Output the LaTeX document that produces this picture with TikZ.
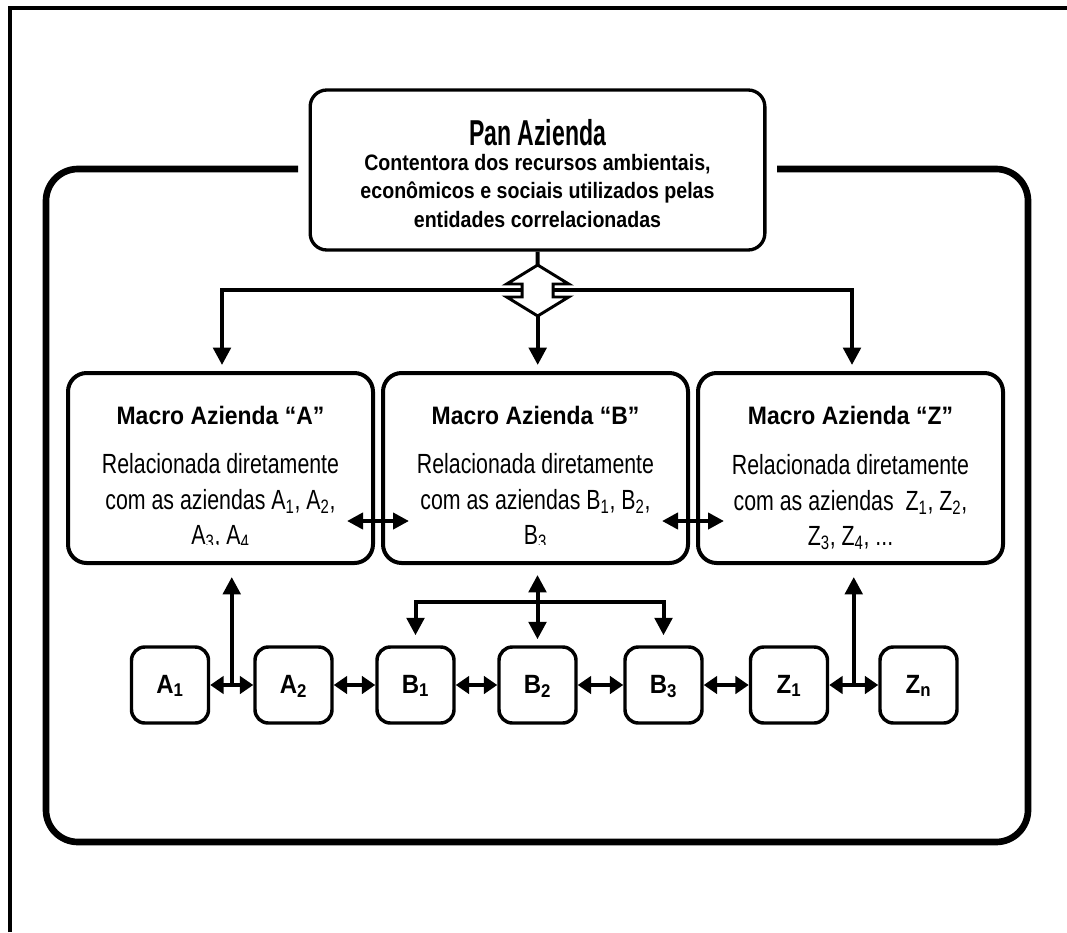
\documentclass[tikz,border=0pt]{standalone}
\usepackage{fontspec}
\setmainfont{Liberation Sans}
\usepackage{graphicx}
\usetikzlibrary{arrows.meta,calc}
\newcommand{\vst}[2]{\scalebox{1}[#1]{#2}}
\begin{document}
\begin{tikzpicture}[x=0.75pt,y=-0.75pt,
  conn/.style={line width=3pt,line join=miter},
  Tv/.tip={Triangle[length=13pt,width=13pt]},
  Th/.tip={Triangle[length=10pt,width=13pt]},
  Tm/.tip={Triangle[length=12pt,width=12pt]},
  panbox/.style={draw,line width=2.5pt,rounded corners=12.5pt,minimum width=341pt,minimum height=120pt,fill=white,inner sep=0pt},
  macbox/.style={draw,line width=3pt,rounded corners=14pt,minimum width=228.75pt,minimum height=142.5pt,inner sep=0pt},
  sbox/.style={draw,line width=2.6pt,rounded corners=10pt,minimum width=57.75pt,minimum height=57pt,inner sep=0pt,text height=14pt,text depth=2pt,font=\fontsize{18}{20}\bfseries},
  txt/.style={inner sep=0pt,align=center},
  hubshape/.style={draw,fill=white,line width=2.2pt,line join=miter}
]
\useasboundingbox (0,0) rectangle (1067,932);
% outer page frame
\draw[line width=2.6pt] (10,932) -- (10,8) -- (1067,8);
% big rounded frame with a gap for the Pan Azienda box
\draw[line width=5pt,rounded corners=24pt] (298,169) -- (46,169) -- (46,842) -- (1028,842) -- (1028,169) -- (777,169);

% Pan Azienda box
\node[panbox] (pan) at (537.5,170) {};
\node[txt] (pantitle) at (537.5,133) {\fontsize{18}{20}\bfseries\scalebox{0.96}[1.5]{Pan Azienda}};
\node[txt] (panbody) at (537.5,193) {\vst{1.14}{\fontsize{14.7}{18.7}\bfseries\begin{tabular}{@{}c@{}}Contentora dos recursos ambientais,\\ econômicos e sociais utilizados pelas\\ entidades correlacionadas\end{tabular}}};

% Macro boxes
\node[macbox] (macA) at (220.5,468) {};
\node[macbox] (macB) at (535.5,468) {};
\node[macbox] (macZ) at (850.5,468) {};

\node[txt] (macAt) at (220.5,415) {\fontsize{17.2}{20}\bfseries\vst{1.1}{Macro Azienda “A”}};
\node[txt] (macBt) at (535.5,415) {\fontsize{17.2}{20}\bfseries\vst{1.1}{Macro Azienda “B”}};
\node[txt] (macZt) at (850.5,415) {\fontsize{17.2}{20}\bfseries\vst{1.1}{Macro Azienda “Z”}};

\begin{scope}
\clip (macA.north west) rectangle ([yshift=15.75pt]macA.south east);
\node[txt] (macAb) at (220.5,502) {\vst{1.3}{\fontsize{16}{20.2}\selectfont\begin{tabular}{@{}c@{}}Relacionada diretamente\\ com as aziendas A\textsubscript{1}, A\textsubscript{2},\\ A\textsubscript{3}, A\textsubscript{4}\end{tabular}}};
\end{scope}
\begin{scope}
\clip (macB.north west) rectangle ([yshift=15.75pt]macB.south east);
\node[txt] (macBb) at (535.5,502) {\vst{1.3}{\fontsize{16}{20.2}\selectfont\begin{tabular}{@{}c@{}}Relacionada diretamente\\ com as aziendas B\textsubscript{1}, B\textsubscript{2},\\ B\textsubscript{3}\end{tabular}}};
\end{scope}
\node[txt] (macZb) at (850.5,503) {\vst{1.3}{\fontsize{16}{20.2}\selectfont\begin{tabular}{@{}c@{}}Relacionada diretamente\\ com as aziendas\ \ Z\textsubscript{1}, Z\textsubscript{2},\\ Z\textsubscript{3}, Z\textsubscript{4}, ...\end{tabular}}};

% arrows between macro boxes
\draw[conn,Tm-Tm] ([xshift=-21pt,yshift=-39.75pt]macA.east) -- ([xshift=21pt,yshift=-39.75pt]macB.west);
\draw[conn,Tm-Tm] ([xshift=-21pt,yshift=-39.75pt]macB.east) -- ([xshift=21pt,yshift=-39.75pt]macZ.west);

% distribution from Pan Azienda
\coordinate (hub) at (537.7,290);
\coordinate (hubtop) at (537.7,265);
\coordinate (hubbot) at (537.7,316);
\coordinate (hl) at (222,290);
\coordinate (hr) at (852,290);
\draw[conn,Tv-Tv,shorten <=4.5pt,shorten >=4.5pt] (hl |- macA.north) -- (hl) -- (hr) -- (hr |- macZ.north);
\draw[conn] (pan.south) -- (hubtop);
\draw[conn,-Tv,shorten >=4.5pt] (hubbot) -- (hubbot |- macB.north);
\begin{scope}[shift={(hub)}]
\draw[hubshape] (0,-25) -- (31,-6) -- (15.5,-6) -- (15.5,7) -- (31,7) -- (0,26) -- (-31,7) -- (-15.5,7) -- (-15.5,-6) -- (-31,-6) -- cycle;
\end{scope}

% bottom aziendas
\node[sbox] (A1) at (170,685) {\vst{1.1}{A\textsubscript{1}}};
\node[sbox] (A2) at (293.5,685) {\vst{1.1}{A\textsubscript{2}}};
\node[sbox] (B1) at (415.5,685) {\vst{1.1}{B\textsubscript{1}}};
\node[sbox] (B2) at (537.5,685) {\vst{1.1}{B\textsubscript{2}}};
\node[sbox] (B3) at (663.5,685) {\vst{1.1}{B\textsubscript{3}}};
\node[sbox] (Z1) at (789,685) {\vst{1.1}{Z\textsubscript{1}}};
\node[sbox] (Zn) at (918.5,685) {\vst{1.1}{Z\textsubscript{n}}};

\draw[conn,Th-Th] (A1.east) -- (A2.west);
\draw[conn,Th-Th] (A2.east) -- (B1.west);
\draw[conn,Th-Th] (B1.east) -- (B2.west);
\draw[conn,Th-Th] (B2.east) -- (B3.west);
\draw[conn,Th-Th] (B3.east) -- (Z1.west);
\draw[conn,Th-Th] (Z1.east) -- (Zn.west);

% vertical links to macro boxes
\coordinate (ja) at ($(A1.east)!0.5!(A2.west)$);
\coordinate (jz) at ($(Z1.east)!0.5!(Zn.west)$);
\coordinate (bar) at (537.5,602);
\draw[conn,-Tv,shorten >=9pt] (ja) -- (ja |- macA.south);
\draw[conn,-Tv,shorten >=9pt] (jz) -- (jz |- macZ.south);
\draw[conn,Tv-Tv,shorten <=7.5pt,shorten >=4.5pt] (B2.north |- macB.south) -- (B2.north);
\draw[conn,Tv-Tv,shorten <=7.5pt,shorten >=7.5pt] (B1.north) -- (B1.north |- bar) -- (B3.north |- bar) -- (B3.north);
\end{tikzpicture}
\end{document}
